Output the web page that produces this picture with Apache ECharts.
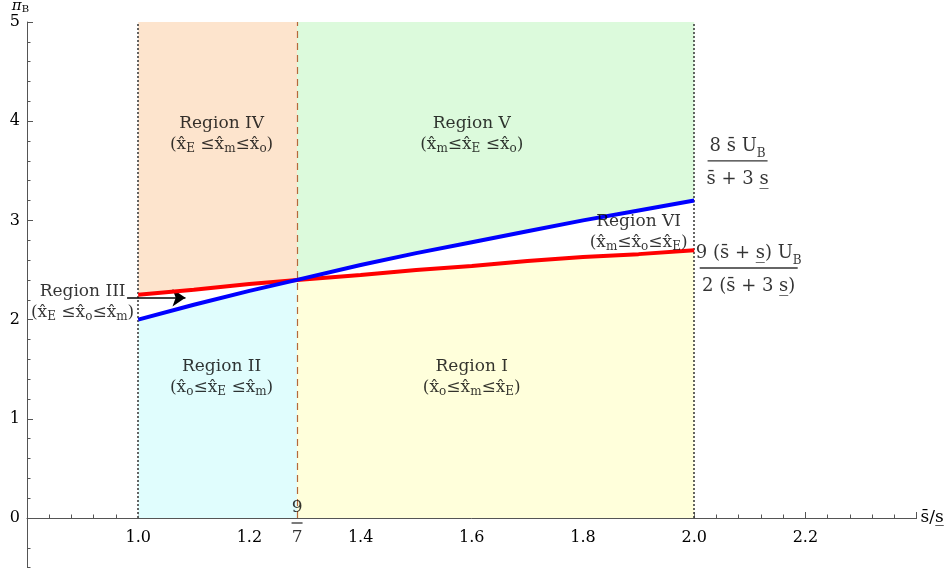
<!DOCTYPE html>
<html><head><meta charset="utf-8">
<script src="https://cdn.jsdelivr.net/npm/echarts@6/dist/echarts.min.js"></script>
<style>html,body{margin:0;padding:0;background:#fff}#c{width:945px;height:573px}</style>
</head><body><div id="c"></div>
<script>
// ---- data ----
const curveX = [1.0, 1.1, 1.2, 1.2857, 1.4, 1.5, 1.6, 1.7, 1.8, 1.9, 2.0];
const blueY  = [2.0, 2.15, 2.29, 2.4, 2.55, 2.67, 2.78, 2.89, 3.0, 3.1, 3.2];
const redY   = [2.25, 2.3, 2.36, 2.4, 2.45, 2.5, 2.54, 2.59, 2.63, 2.66, 2.7];
const crossIdx = 3;          // index of x = 9/7 in curveX
const xCross = 9 / 7;
const yTopVal = 5;
const boundaryX = [1.0, 2.0];
const xTickLabels = ['1.0', '1.2', '1.4', '1.6', '1.8', '2.0', '2.2'];
const yTickLabels = ['0', '1', '2', '3', '4', '5'];
const regionLabels = [
  { name: 'Region I',   sub: [['x̂', 'o'], ['≤x̂', 'm'], ['≤x̂', 'E']], pos: [1.6, 1.42] },
  { name: 'Region II',  sub: [['x̂', 'o'], ['≤x̂', 'E'], [' ≤x̂', 'm']], pos: [1.15, 1.42] },
  { name: 'Region III', sub: [['x̂', 'E'], [' ≤x̂', 'o'], ['≤x̂', 'm']], pos: [0.9, 2.18] },
  { name: 'Region IV',  sub: [['x̂', 'E'], [' ≤x̂', 'm'], ['≤x̂', 'o']], pos: [1.15, 3.87] },
  { name: 'Region V',   sub: [['x̂', 'm'], ['≤x̂', 'E'], [' ≤x̂', 'o']], pos: [1.6, 3.87] },
  { name: 'Region VI',  sub: [['x̂', 'm'], ['≤x̂', 'o'], ['≤x̂', 'E']], pos: [1.9, 2.88] }
];
const arrowFrom = [0.98, 2.22];
const arrowTo = [1.085, 2.22];
const blueFormulaPos = [2.078, 3.57];
const redFormulaPos = [2.098, 2.49];

// ---- styles ----
const FONT = 'DejaVu Serif';
const AXIS_COLOR = '#555';
const regionFills = [
  { lower: 'zero', upper: 'red',  from: crossIdx, to: curveX.length - 1, color: '#ffffdb' }, // I
  { lower: 'zero', upper: 'blue', from: 0, to: crossIdx, color: '#e0fdfd' },                // II
  { lower: 'red',  upper: 'top',  from: 0, to: crossIdx, color: '#fde4cd' },                // IV
  { lower: 'blue', upper: 'top',  from: crossIdx, to: curveX.length - 1, color: '#dcfadc' } // V
];
function valAt(kind, i) {
  if (kind === 'zero') return 0;
  if (kind === 'top') return yTopVal;
  if (kind === 'red') return redY[i];
  return blueY[i];
}
function renderRegion(params, api) {
  const r = regionFills[params.dataIndex];
  const pts = [];
  for (let i = r.from; i <= r.to; i++) pts.push(api.coord([curveX[i], valAt(r.upper, i)]));
  for (let i = r.to; i >= r.from; i--) pts.push(api.coord([curveX[i], valAt(r.lower, i)]));
  return { type: 'polygon', shape: { points: pts }, style: { fill: r.color } };
}

const rich = {
  t:  { fontFamily: FONT, fontSize: 17, lineHeight: 21, color: '#000' },
  p:  { fontFamily: FONT, fontSize: 17, lineHeight: 21, color: '#000', verticalAlign: 'middle' },
  s:  { fontFamily: FONT, fontSize: 12, lineHeight: 9, color: '#000', verticalAlign: 'bottom' },
  n:  { fontFamily: FONT, fontSize: 18, lineHeight: 28, color: '#000', verticalAlign: 'middle' },
  ns: { fontFamily: FONT, fontSize: 12, lineHeight: 16, color: '#000', verticalAlign: 'bottom' },
  d:  { fontFamily: FONT, fontSize: 18, lineHeight: 34, color: '#000' },
  bar1: { width: 60, height: 1.3, lineHeight: 2, backgroundColor: '#000' },
  bar2: { width: 98, height: 1.3, lineHeight: 2, backgroundColor: '#000' },
  f:  { fontFamily: FONT, fontSize: 17, lineHeight: 28, color: '#000' },
  bar3: { width: 11, height: 1.3, lineHeight: 2, backgroundColor: '#000' }
};
function regionText(r) {
  let second = '{p|(}';
  r.sub.forEach(([m, s]) => { second += '{p|' + m + '}{s|' + s + '}'; });
  second += '{p|)}';
  return '{t|' + r.name + '}\n' + second;
}
const labelData = regionLabels.map(r => ({
  value: r.pos, label: { formatter: regionText(r) }
}));
labelData.push({ value: blueFormulaPos,
  label: { formatter: '{n|8 s\u0304 U}{ns|B}\n{bar1| }\n{d|s\u0304 + 3 s\u0332}' } });
labelData.push({ value: redFormulaPos,
  label: { formatter: '{n|9 (s\u0304 + s\u0332) U}{ns|B}\n{bar2| }\n{d|2 (s\u0304 + 3 s\u0332)}' } });
labelData.push({ value: [xCross, 0],
  label: { formatter: '{f|9}\n{bar3| }\n{f|7}', offset: [0, 5] } });

const PX_PER_Y = 99.2;
const chart = echarts.init(document.getElementById('c'));
chart.setOption({
  animation: false,
  backgroundColor: '#fff',
  grid: [
    { left: 27, top: 22, width: 889.6, height: 5 * PX_PER_Y, outerBoundsMode: 'none', containLabel: false },
    { left: 27, top: 22 + 5 * PX_PER_Y, width: 889.6, height: 0.5 * PX_PER_Y, outerBoundsMode: 'none', containLabel: false }
  ],
  xAxis: [
    {
      gridIndex: 0, type: 'value', min: 0.8, max: 2.4, interval: 0.2,
      name: 's\u0304/s\u0332', nameLocation: 'end', nameGap: 4,
      nameTextStyle: { fontFamily: FONT, fontSize: 17, color: '#000' },
      axisLine: { onZero: false, lineStyle: { color: AXIS_COLOR, width: 1 } },
      axisTick: { inside: true, length: 6, lineStyle: { color: AXIS_COLOR } },
      minorTick: { show: true, splitNumber: 5, length: 3.5, lineStyle: { color: AXIS_COLOR } },
      splitLine: { show: false },
      axisLabel: {
        show: true, margin: 12, fontFamily: FONT, fontSize: 16, color: '#000',
        formatter: function (v) { const s = Number(v).toFixed(1); return xTickLabels.indexOf(s) >= 0 ? s : ''; }
      }
    },
    { gridIndex: 1, type: 'value', min: 0.8, max: 2.4, show: false }
  ],
  yAxis: [
    {
      gridIndex: 0, type: 'value', min: 0, max: 5, interval: 1,
      name: '{a|π}{b|B}', nameLocation: 'end', nameGap: 4,
      nameTextStyle: { align: 'right', padding: [0, -2, 0, 0],
        rich: { a: { fontFamily: FONT, fontSize: 15, fontStyle: 'italic', color: '#000' },
                b: { fontFamily: FONT, fontSize: 10, color: '#000', verticalAlign: 'bottom', lineHeight: 10 } } },
      axisLine: { show: true, onZero: false, lineStyle: { color: AXIS_COLOR, width: 1 } },
      axisTick: { inside: true, length: 6, lineStyle: { color: AXIS_COLOR } },
      minorTick: { show: true, splitNumber: 5, length: 3.5, lineStyle: { color: AXIS_COLOR } },
      splitLine: { show: false },
      axisLabel: {
        margin: 7, fontFamily: FONT, fontSize: 16, color: '#000',
        formatter: v => { const s = String(Math.round(v)); return yTickLabels.includes(s) ? s : ''; }
      }
    },
    {
      gridIndex: 1, type: 'value', min: -0.5, max: 0, splitNumber: 2,
      axisLine: { show: true, onZero: false, lineStyle: { color: AXIS_COLOR, width: 1 } },
      axisTick: { inside: true, length: 3.5, lineStyle: { color: AXIS_COLOR } },
      splitLine: { show: false },
      axisLabel: { show: false }
    }
  ],
  series: [
    {
      type: 'custom', coordinateSystem: 'cartesian2d', renderItem: renderRegion,
      data: regionFills.map((r, i) => [i]), clip: false, silent: true, z: 1,
      markLine: {
        silent: true, symbol: ['none', 'none'], label: { show: false }, animation: false,
        data: [
          [{ coord: [boundaryX[0], 0], lineStyle: { type: [2, 2], color: '#333', width: 1.5 } }, { coord: [boundaryX[0], yTopVal] }],
          [{ coord: [boundaryX[1], 0], lineStyle: { type: [2, 2], color: '#333', width: 1.5 } }, { coord: [boundaryX[1], yTopVal] }],
          [{ coord: [xCross, 0], lineStyle: { type: [7, 5], color: '#b5683a', width: 1.2 } }, { coord: [xCross, yTopVal] }]
        ]
      }
    },
    {
      type: 'line', data: curveX.map((x, i) => [x, redY[i]]), showSymbol: false, symbol: 'none',
      lineStyle: { color: '#ff0000', width: 4 }, z: 5, silent: true,
      markLine: {
        silent: true, symbol: ['none', 'arrow'], symbolSize: 13, label: { show: false },
        lineStyle: { color: '#000', width: 1.5, type: 'solid' },
        data: [[{ coord: arrowFrom }, { coord: arrowTo }]]
      }
    },
    {
      type: 'line', data: curveX.map((x, i) => [x, blueY[i]]), showSymbol: false, symbol: 'none',
      lineStyle: { color: '#0000ff', width: 4 }, z: 6, silent: true
    },
    {
      type: 'scatter', symbolSize: 0, data: labelData, z: 10, silent: true,
      label: { show: true, position: 'inside', align: 'center', verticalAlign: 'middle', rich: rich, color: '#000' }
    }
  ]
});
</script></body></html>
